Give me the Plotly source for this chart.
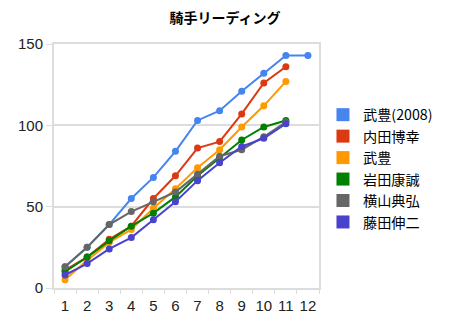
import plotly.graph_objects as go

rounds = [1, 2, 3, 4, 5, 6, 7, 8, 9, 10, 11, 12]
names = ["武豊(2008)", "内田博幸", "武豊", "岩田康誠", "横山典弘", "藤田伸二"]
take2008 = [13, 25, 39, 55, 68, 84, 103, 109, 121, 132, 143, 143]
uchida = [11, 19, 30, 38, 55, 69, 86, 90, 107, 126, 136]
take = [5, 17, 28, 36, 49, 61, 74, 85, 99, 112, 127]
iwata = [10, 19, 29, 38, 46, 56, 69, 80, 91, 99, 103]
yokoyama = [13, 25, 39, 47, 53, 59, 70, 81, 85, 93, 102]
fujita = [8, 15, 24, 31, 42, 53, 66, 77, 87, 92, 101]
yticks = [0, 50, 100, 150]

series = [take2008, uchida, take, iwata, yokoyama, fujita]
colors = ["#4684EE", "#DC3912", "#FF9900", "#008000", "#666666", "#4942CC"]

fig = go.Figure()
for name, vals, c in zip(names, series, colors):
    fig.add_trace(go.Scatter(
        x=rounds[:len(vals)], y=vals, mode="lines+markers", name=name,
        line=dict(color=c, width=2), marker=dict(color=c, size=7),
        showlegend=False))
for name, c in zip(names, colors):
    fig.add_trace(go.Scatter(
        x=[None], y=[None], mode="markers", name=name,
        marker=dict(color=c, size=13, symbol="square")))

fig.update_layout(
    width=450, height=320,
    margin=dict(l=54, r=128, t=44, b=32),
    paper_bgcolor="white", plot_bgcolor="white",
    title=dict(text="<b>騎手リーディング</b>", x=0.5, xanchor="center",
               y=0.945, yanchor="middle",
               font=dict(family="Noto Sans CJK JP", size=14, color="black")),
    font=dict(family="Liberation Sans, Arial", size=15, color="#222222"),
    legend=dict(x=1.015, xanchor="left", y=0.49, yanchor="middle",
                font=dict(family="Noto Sans CJK JP", size=14.2, color="black"),
                itemwidth=30, tracegroupgap=0),
)
fig.update_xaxes(range=[0.5, 12.5], tickvals=rounds, ticktext=[str(r) for r in rounds],
                 showgrid=False, showline=True, linecolor="#dddddd", linewidth=2,
                 mirror=True, ticks="outside", ticklen=3, tickcolor="rgba(0,0,0,0)",
                 zeroline=False, automargin=False,
                 minor=dict(tick0=0.5, dtick=1, ticks="outside", ticklen=4,
                            tickcolor="#dddddd", showgrid=False))
fig.update_yaxes(range=[0, 150], tickvals=yticks, showgrid=True, gridcolor="#dddddd",
                 gridwidth=2, showline=True, linecolor="#dddddd", linewidth=2,
                 mirror=True, ticks="outside", ticklen=6, tickcolor="#dddddd",
                 zeroline=False, automargin=False)

fig.write_html("out.html")
